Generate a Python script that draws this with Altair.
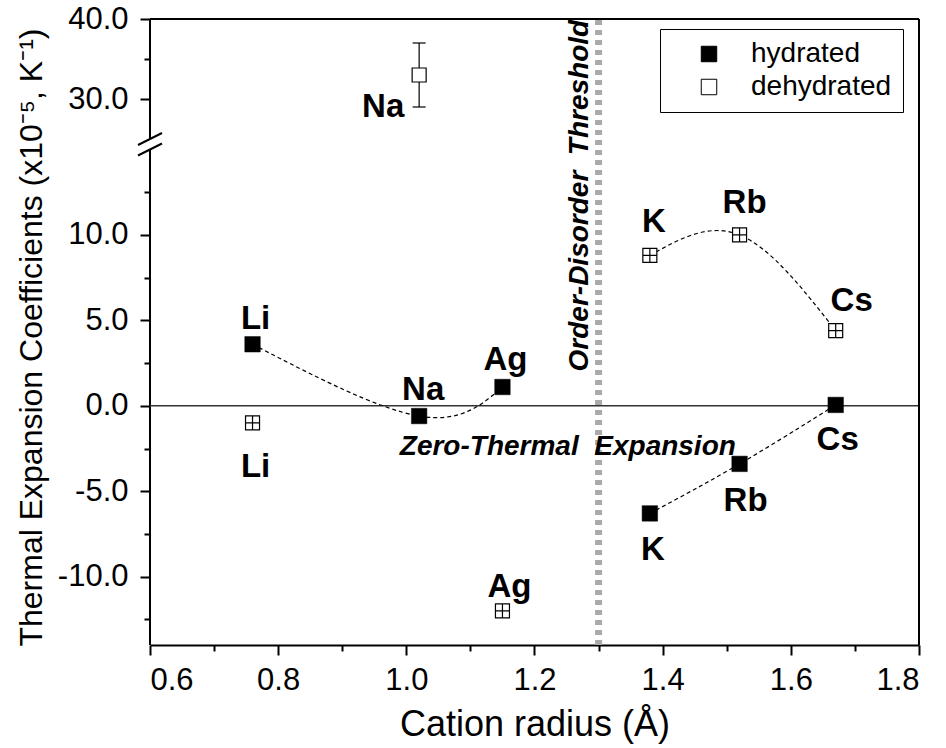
import altair as alt
import pandas as pd

# ---- data ----
cations = ["Li", "Na", "Ag", "K", "Rb", "Cs"]
radius = [0.76, 1.02, 1.15, 1.38, 1.52, 1.67]
hydrated = [3.6, -0.6, 1.1, -6.3, -3.4, 0.05]
dehydrated = [-1.0, 33.0, -12.0, 8.8, 10.0, 4.4]
dehydrated_err = [0.3, 4.0, 0.3, 0.3, 0.3, 0.3]
series_names = ["hydrated", "dehydrated"]

x_ticks = [0.6, 0.7, 0.8, 0.9, 1.0, 1.1, 1.2, 1.3, 1.4, 1.5, 1.6, 1.7, 1.8]
y_major = [-10, -5, 0, 5, 10, 30, 40]
y_minor = [-12.5, -7.5, -2.5, 2.5, 7.5, 12.5, 35]
threshold_x = 1.3

FONT = "Liberation Sans"
NB = "\u00a0"

df_h = pd.DataFrame({"cation": cations, "radius": radius, "value": hydrated,
                     "series": "hydrated"})
df_d = pd.DataFrame({"cation": cations, "radius": radius, "value": dehydrated,
                     "err": dehydrated_err, "series": "dehydrated"})
df_d["lo"] = df_d["value"] - df_d["err"]
df_d["hi"] = df_d["value"] + df_d["err"]
df_h["grp"] = ["a", "a", "a", "b", "b", "b"]
df_d["grp"] = ["x", "x", "x", "b", "b", "b"]

xscale = alt.Scale(domain=[0.6, 1.8], nice=False, zero=False)
# broken axis: piecewise linear scale (-14..15 lower part, 25..40 upper part)
yscale = alt.Scale(domain=[-14, 15, 25, 40], range=[626, 130.5, 120, 0],
                   nice=False, zero=False)

xaxis = alt.Axis(
    values=x_ticks,
    labelExpr="abs(round(datum.value*10)) % 2 == 0 ? format(datum.value, '.1f') : ''",
    tickSize={"condition": {"test": "abs(round(datum.value*10)) % 2 == 0", "value": 10},
              "value": 6},
    labelPadding=10,
    title="Cation radius (Å)",
    titleX=384.5, titleY=90, titleAlign="center", titleBaseline="alphabetic",
    grid=False,
)
yaxis = alt.Axis(
    values=sorted(y_major + y_minor),
    labelExpr="indexof(%s, datum.value) >= 0 ? replace(format(datum.value, '.1f'), '\u2212', '-') : ''" % str(y_major),
    tickSize={"condition": {"test": "indexof(%s, datum.value) >= 0" % str(y_major), "value": 10},
              "value": 6},
    labelPadding=12,
    domain=False,
    title="Thermal Expansion Coefficients (x10⁻⁵, K⁻¹)",
    titleFontSize=32,
    titleX=-109, titleY=318, titleAngle=270, titleAlign="center",
    titleBaseline="alphabetic",
    grid=False,
)

X = alt.X("radius:Q", scale=xscale, axis=xaxis)
Y = alt.Y("value:Q", scale=yscale, axis=yaxis)

fill_enc = alt.Fill(
    "series:N",
    scale=alt.Scale(domain=series_names, range=["black", "white"]),
    legend=alt.Legend(
        title=None, orient="none", legendX=510, legendY=10,
        strokeColor="black", padding=11, symbolOffset=24, labelOffset=28,
        rowPadding=5, symbolType="square", symbolSize=240,
        symbolStrokeColor="black", symbolStrokeWidth=1,
        labelFont=FONT, labelFontSize=28, labelColor="black",
    ),
)

base_h = alt.Chart(df_h)
base_d = alt.Chart(df_d)

# frame / decorations positioned through the scales
frame_df = pd.DataFrame({"x": [0.6]})
left_low = alt.Chart(frame_df).mark_rule(color="black", strokeWidth=2).encode(
    x=alt.X("x:Q", scale=xscale, axis=xaxis), y=alt.datum(-14), y2=alt.datum(15))
left_up = alt.Chart(frame_df).mark_rule(color="black", strokeWidth=2).encode(
    x=alt.X("x:Q", scale=xscale, axis=xaxis), y=alt.datum(25), y2=alt.datum(40))
top_border = alt.Chart(frame_df).mark_rule(color="black", strokeWidth=2).encode(
    x=alt.datum(0.6), x2=alt.datum(1.8), y=alt.datum(40))
right_border = alt.Chart(frame_df).mark_rule(color="black", strokeWidth=2).encode(
    x=alt.datum(1.8), y=alt.datum(-14), y2=alt.datum(40))
slash1 = alt.Chart(frame_df).mark_rule(color="black", strokeWidth=2, yOffset=6, y2Offset=-6).encode(
    x=alt.value(-12), x2=alt.value(12), y=alt.datum(25), y2=alt.datum(25))
slash2 = alt.Chart(frame_df).mark_rule(color="black", strokeWidth=2, yOffset=6, y2Offset=-6).encode(
    x=alt.value(-12), x2=alt.value(12), y=alt.datum(15), y2=alt.datum(15))

zero_line = alt.Chart(frame_df).mark_rule(color="#333333", strokeWidth=1.5).encode(
    x=alt.datum(0.6), x2=alt.datum(1.8), y=alt.datum(0))
threshold = alt.Chart(frame_df).mark_rule(
    color="#aaaaaa", strokeWidth=7, strokeDash=[5, 5], strokeCap="butt").encode(
    x=alt.datum(threshold_x), y=alt.datum(-14), y2=alt.datum(40))

curve_style = dict(color="black", strokeWidth=1.2, strokeDash=[4, 3], interpolate="natural")
curves_h = base_h.mark_line(**curve_style).encode(x=X, y=Y, detail="grp:N")
curves_d = base_d.transform_filter("datum.grp == 'b'").mark_line(**curve_style).encode(x=X, y=Y)

err_v = base_d.mark_rule(color="black", strokeWidth=1.2).encode(
    x=X, y=alt.Y("lo:Q", scale=yscale, axis=yaxis), y2="hi:Q")
err_lo = base_d.mark_rule(color="black", strokeWidth=1.2, xOffset=-6.5, x2Offset=6.5).encode(
    x=X, x2="radius:Q", y=alt.Y("lo:Q", scale=yscale, axis=yaxis))
err_hi = base_d.mark_rule(color="black", strokeWidth=1.2, xOffset=-6.5, x2Offset=6.5).encode(
    x=X, x2="radius:Q", y=alt.Y("hi:Q", scale=yscale, axis=yaxis))

pts_h = base_h.mark_point(shape="square", filled=True, size=240, stroke="black",
                          strokeWidth=0.5, opacity=1).encode(x=X, y=Y, fill=fill_enc)
PLUS_SQ = "M-1,-1H1V1H-1Z M-1,0H1 M0,-1V1"
pts_d = base_d.mark_point(filled=True, size=196, stroke="black", strokeWidth=1.2,
                          opacity=1).encode(
    x=X, y=Y, fill=fill_enc,
    shape=alt.condition("datum.err > 1", alt.value("square"), alt.value(PLUS_SQ)))

# label offsets (pixels, relative to each point)
off_h = {"Li": (3, -15), "Na": (4, -16), "Ag": (3, -17), "K": (3, 47), "Rb": (6, 47), "Cs": (2, 45)}
off_d = {"Li": (3, 54), "Na": (-36, 42), "Ag": (7, -14), "K": (4, -23), "Rb": (5, -22), "Cs": (16, -20)}

label_layers = []
for base, offs in ((base_h, off_h), (base_d, off_d)):
    for c in cations:
        dx, dy = offs[c]
        label_layers.append(
            base.transform_filter(alt.datum.cation == c).mark_text(
                font=FONT, fontSize=33, fontWeight="bold", color="black",
                align="center", baseline="alphabetic", dx=dx, dy=dy
            ).encode(x=X, y=Y, text="cation:N")
        )

ann_zero = alt.Chart(frame_df).mark_text(
    font=FONT, fontSize=28, fontWeight="bold", fontStyle="italic", color="black",
    align="center", baseline="alphabetic").encode(
    x=alt.datum(1.252), y=alt.datum(-2.87), text=alt.value("Zero-Thermal" + NB + " Expansion"))
ann_thr = alt.Chart(frame_df).mark_text(
    font=FONT, fontSize=28, fontWeight="bold", fontStyle="italic", color="black",
    align="center", baseline="alphabetic", angle=270).encode(
    x=alt.datum(1.283), y=alt.datum(12.3), text=alt.value("Order-Disorder" + NB + " Threshold"))

chart = alt.layer(
    left_low, left_up, threshold, zero_line, curves_h, curves_d,
    err_v, err_lo, err_hi, pts_h, pts_d, *label_layers, ann_zero, ann_thr,
    top_border, right_border, slash1, slash2,
).properties(
    width=769, height=626,
    autosize=alt.AutoSizeParams(type="none"),
    padding={"left": 150, "top": 19, "right": 27, "bottom": 103},
    background="white",
).configure_view(stroke=None).configure_axis(
    domainColor="black", domainWidth=2, tickColor="black", tickWidth=2,
    labelFont=FONT, labelFontSize=31, labelColor="black",
    titleFont=FONT, titleFontSize=36, titleFontWeight="normal", titleColor="black",
)

chart.save("out.html", embed_options={"renderer": "svg", "actions": False})
